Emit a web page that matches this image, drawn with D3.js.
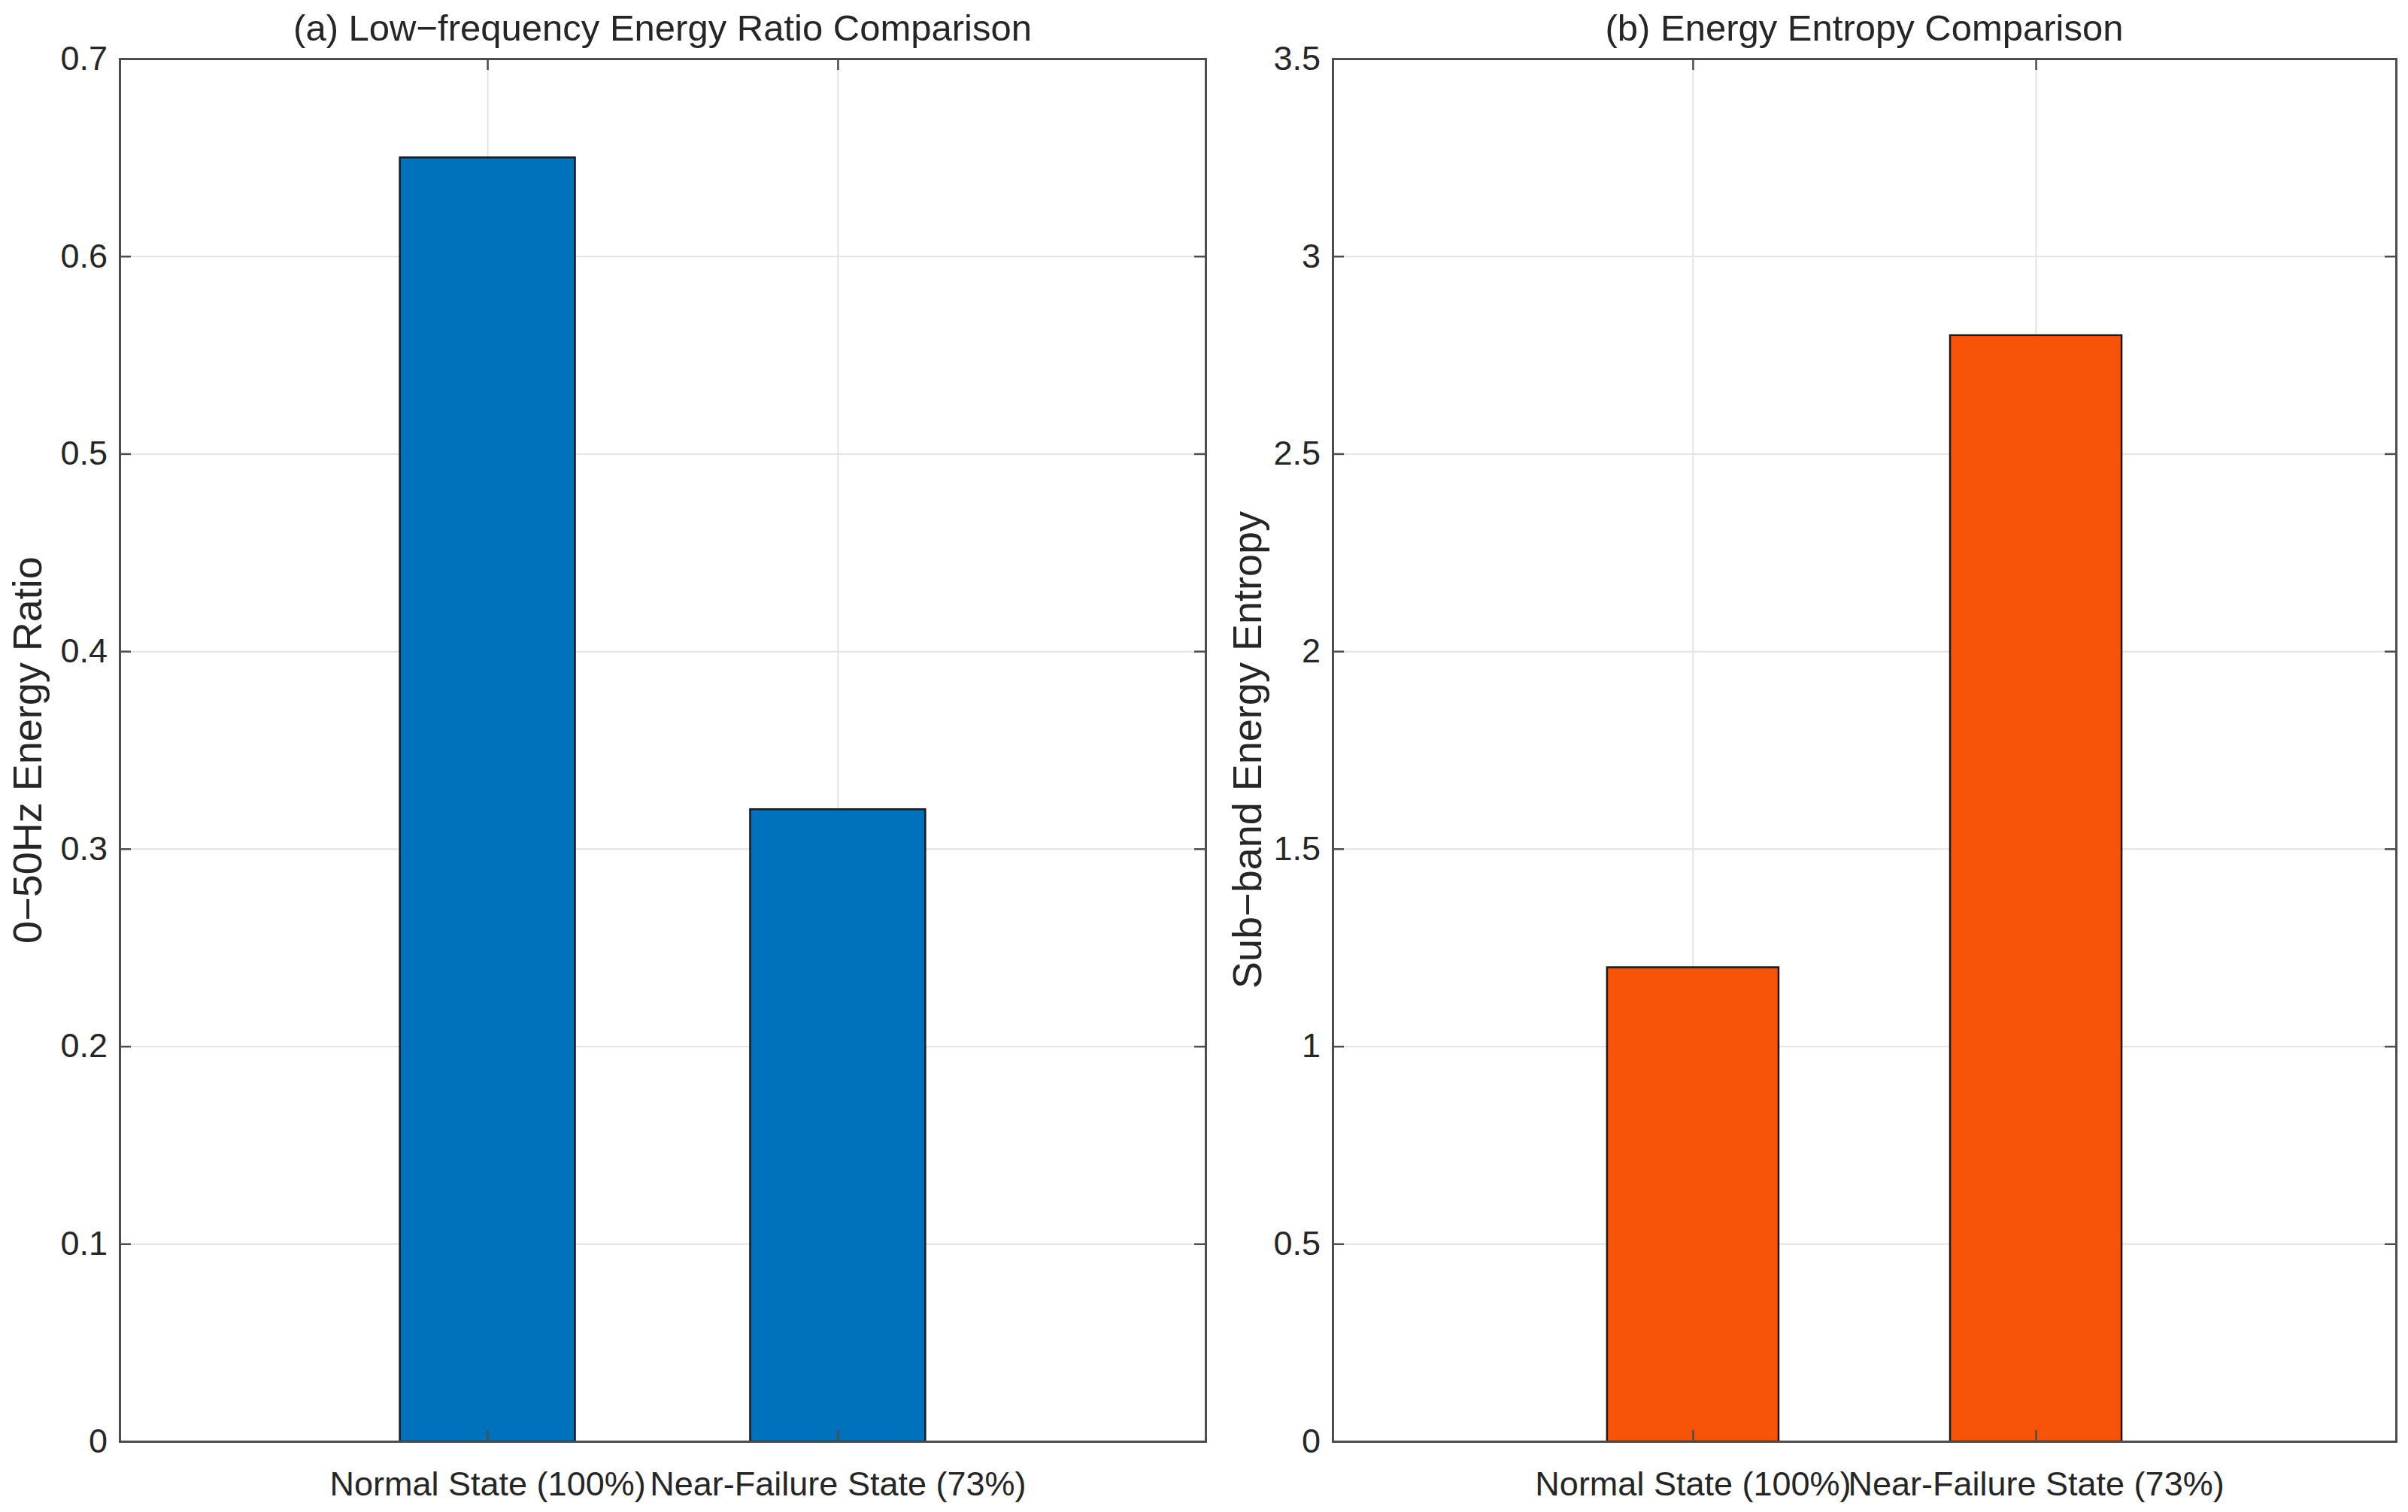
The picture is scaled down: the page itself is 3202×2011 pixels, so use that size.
<!DOCTYPE html>
<html>
<head>
<meta charset="utf-8">
<script src="https://cdn.jsdelivr.net/npm/d3@7"></script>
<style>
  body { margin: 0; background: #fff; }
  text { font-family: "Liberation Sans", Arial, sans-serif; fill: #262626; }
</style>
</head>
<body>
<div class="graphContainer"></div>
<script>
var width = 3202;
var height = 2011;

// data
var categories = ["Normal State (100%)", "Near-Failure State (73%)"];
var lowFreqRatio = [0.65, 0.32];
var energyEntropy = [1.2, 2.8];
var ticksA = [0, 0.1, 0.2, 0.3, 0.4, 0.5, 0.6, 0.7];
var ticksB = [0, 0.5, 1, 1.5, 2, 2.5, 3, 3.5];

var svg = d3
  .select(".graphContainer")
  .append("svg")
  .attr("width", width)
  .attr("height", height);

var plotTop = 78, plotBottom = 1917;

function panel(opts) {
  var g = svg.append("g");
  var xScale = d3.scaleLinear().domain([-0.05, 3.05]).range([opts.left, opts.right]);
  var yScale = d3.scaleLinear().domain([0, opts.ticks[opts.ticks.length - 1]]).range([plotBottom, plotTop]);
  var w = opts.right - opts.left;
  var h = plotBottom - plotTop;

  // grid
  g.append("g")
    .attr("transform", "translate(" + opts.left + ",0)")
    .call(d3.axisLeft(yScale).tickValues(opts.ticks).tickSize(-w).tickFormat(""))
    .call((s) => s.select(".domain").remove())
    .selectAll("line").attr("stroke", "#e3e3e3").attr("stroke-width", 2);
  g.append("g")
    .attr("transform", "translate(0," + plotBottom + ")")
    .call(d3.axisBottom(xScale).tickValues([1, 2]).tickSize(-h).tickFormat(""))
    .call((s) => s.select(".domain").remove())
    .selectAll("line").attr("stroke", "#e3e3e3").attr("stroke-width", 2);

  // bars
  var bw = xScale(0.5) - xScale(0);
  g.selectAll("rect.bar")
    .data(opts.values)
    .enter()
    .append("rect")
    .attr("class", "bar")
    .attr("x", (d, i) => xScale(i + 1) - bw / 2)
    .attr("y", (d) => yScale(d))
    .attr("width", bw)
    .attr("height", (d) => yScale(0) - yScale(d))
    .style("fill", opts.color)
    .style("stroke", "#1a1a1a")
    .style("stroke-width", 2.5);

  // axes (box with inward ticks)
  var yLeft = g.append("g")
    .attr("transform", "translate(" + opts.left + ",0)")
    .call(d3.axisLeft(yScale).tickValues(opts.ticks).tickSize(-15).tickPadding(16).tickFormat(d3.format("")));
  var yRight = g.append("g")
    .attr("transform", "translate(" + opts.right + ",0)")
    .call(d3.axisRight(yScale).tickValues(opts.ticks).tickSize(-15).tickFormat(""));
  var xBottom = g.append("g")
    .attr("transform", "translate(0," + plotBottom + ")")
    .call(d3.axisBottom(xScale).tickValues([1, 2]).tickSize(-15).tickPadding(40).tickFormat((d) => categories[d - 1]));
  var xTop = g.append("g")
    .attr("transform", "translate(0," + plotTop + ")")
    .call(d3.axisTop(xScale).tickValues([1, 2]).tickSize(-15).tickFormat(""));

  [yLeft, yRight, xBottom, xTop].forEach(function (a) {
    a.select(".domain").attr("stroke", "#4d4d4d").attr("stroke-width", 3);
    a.selectAll(".tick line").attr("stroke", "#4d4d4d").attr("stroke-width", 2.5);
    a.selectAll("text").style("font-size", "45px").style("fill", "#262626")
      .style("font-family", "'Liberation Sans', Arial, sans-serif");
  });

  // title
  g.append("text")
    .attr("x", (opts.left + opts.right) / 2)
    .attr("y", 54)
    .attr("text-anchor", "middle")
    .style("font-size", "49px")
    .text(opts.title);

  // y label
  g.append("text")
    .attr("transform", "translate(" + opts.labelX + "," + (plotTop + plotBottom) / 2 + ") rotate(-90)")
    .attr("text-anchor", "middle")
    .attr("dominant-baseline", "central")
    .style("font-size", "54px")
    .text(opts.ylabel);
}

panel({
  left: 159, right: 1603,
  values: lowFreqRatio, ticks: ticksA, color: "#0072BD",
  title: "(a) Low\u2212frequency Energy Ratio Comparison",
  ylabel: "0\u221250Hz Energy Ratio",
  labelX: 36
});

panel({
  left: 1772, right: 3186,
  values: energyEntropy, ticks: ticksB, color: "#F7540A",
  title: "(b) Energy Entropy Comparison",
  ylabel: "Sub\u2212band Energy Entropy",
  labelX: 1658
});
</script>
</body>
</html>
